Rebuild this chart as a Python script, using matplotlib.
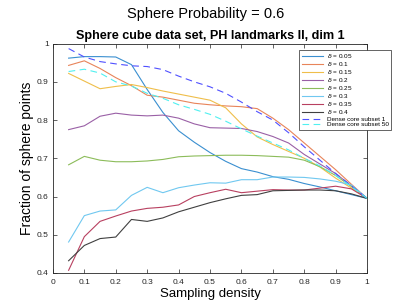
import matplotlib
matplotlib.use("Agg")
import matplotlib.pyplot as plt
import numpy as np

plt.rcParams["font.family"] = ["Liberation Sans", "DejaVu Sans"]

density = [0.05, 0.1, 0.15, 0.2, 0.25, 0.3, 0.35, 0.4, 0.45, 0.5,
           0.55, 0.6, 0.65, 0.7, 0.75, 0.8, 0.85, 0.9, 0.95, 1.0]

delta_labels = ["0.05", "0.1", "0.15", "0.2", "0.25", "0.3", "0.35", "0.4"]

d005 = [0.962, 0.966, 0.966, 0.965, 0.945, 0.880, 0.820, 0.772, 0.742, 0.715,
        0.692, 0.673, 0.664, 0.652, 0.645, 0.634, 0.625, 0.615, 0.605, 0.595]
d010 = [0.943, 0.955, 0.935, 0.911, 0.890, 0.865, 0.860, 0.852, 0.844, 0.840,
        0.837, 0.835, 0.830, 0.805, 0.775, 0.740, 0.705, 0.670, 0.632, 0.595]
d015 = [0.922, 0.902, 0.882, 0.888, 0.893, 0.885, 0.876, 0.868, 0.860, 0.852,
        0.832, 0.790, 0.756, 0.736, 0.718, 0.700, 0.677, 0.648, 0.622, 0.595]
d020 = [0.775, 0.785, 0.810, 0.818, 0.813, 0.811, 0.813, 0.805, 0.790, 0.780,
        0.779, 0.778, 0.770, 0.757, 0.740, 0.710, 0.685, 0.660, 0.628, 0.595]
d025 = [0.683, 0.705, 0.695, 0.691, 0.691, 0.693, 0.697, 0.704, 0.706, 0.707,
        0.708, 0.708, 0.707, 0.705, 0.703, 0.695, 0.678, 0.655, 0.626, 0.595]
d030 = [0.481, 0.550, 0.562, 0.565, 0.603, 0.624, 0.610, 0.623, 0.630, 0.636,
        0.635, 0.644, 0.644, 0.651, 0.651, 0.650, 0.646, 0.640, 0.630, 0.595]
d035 = [0.407, 0.495, 0.535, 0.549, 0.562, 0.569, 0.572, 0.578, 0.600, 0.610,
        0.619, 0.610, 0.614, 0.618, 0.617, 0.617, 0.622, 0.627, 0.620, 0.595]
d040 = [0.432, 0.472, 0.490, 0.494, 0.540, 0.535, 0.544, 0.560, 0.572, 0.584,
        0.594, 0.603, 0.605, 0.615, 0.616, 0.617, 0.617, 0.615, 0.607, 0.595]
dense1 = [0.987, 0.965, 0.953, 0.947, 0.942, 0.940, 0.932, 0.915, 0.900, 0.887,
          0.870, 0.847, 0.822, 0.800, 0.767, 0.730, 0.695, 0.660, 0.628, 0.595]
dense50 = [0.927, 0.933, 0.923, 0.900, 0.889, 0.870, 0.857, 0.840, 0.828, 0.815,
           0.797, 0.777, 0.758, 0.740, 0.722, 0.700, 0.680, 0.655, 0.626, 0.595]

delta_series = [d005, d010, d015, d020, d025, d030, d035, d040]
colors = ["#3a8fd0", "#e8845a", "#efbe4a", "#9a60a6", "#8cbc5a",
          "#70c8f0", "#b84060", "#404040"]

fig = plt.figure(figsize=(4.07, 3.05), dpi=100)
ax = fig.add_axes([0.130, 0.105, 0.772, 0.752])

for vals, c, lab in zip(delta_series, colors, delta_labels):
    ax.plot(density, vals, color=c, lw=0.8, label=rf"$\delta$ = {lab}")
ax.plot(density, dense1, color="#5050ff", lw=0.8, ls=(0, (6, 4)), label="Dense core subset 1")
ax.plot(density, dense50, color="#50f0f0", lw=0.8, ls=(0, (6, 4)), label="Dense core subset 50")

ax.set_xlim(0, 1)
ax.set_ylim(0.4, 1)
ax.set_xticks(np.arange(0, 1.01, 0.1))
ax.set_xticklabels(["0", "0.1", "0.2", "0.3", "0.4", "0.5", "0.6", "0.7", "0.8", "0.9", "1"])
ax.set_yticks(np.arange(0.4, 1.01, 0.1))
ax.set_yticklabels(["0.4", "0.5", "0.6", "0.7", "0.8", "0.9", "1"])
ax.tick_params(direction="in", length=3, width=0.5, labelsize=6, colors="#262626",
               top=True, right=True)
ax.tick_params(axis="x", pad=4)
ax.tick_params(axis="y", pad=3)
for s in ax.spines.values():
    s.set_linewidth(0.6)
    s.set_color("#262626")

ax.set_xlabel("Sampling density", fontsize=9.5, labelpad=2)
ax.set_ylabel("Fraction of sphere points", fontsize=10, labelpad=2)
ax.set_title("Sphere cube data set, PH landmarks II, dim 1", fontsize=9.1,
             fontweight="bold", pad=3)
fig.text(0.505, 0.955, "Sphere Probability = 0.6", fontsize=10.5, ha="center", va="center")

leg = ax.legend(loc="upper right", bbox_to_anchor=(0.968, 0.846),
                bbox_transform=fig.transFigure, fontsize=4.6, frameon=True,
                fancybox=False, framealpha=1, edgecolor="#262626",
                handlelength=3.4, labelspacing=0.0, borderpad=0.35,
                handletextpad=0.5)
leg.get_frame().set_linewidth(0.5)

fig.savefig("out.png", dpi=100)
